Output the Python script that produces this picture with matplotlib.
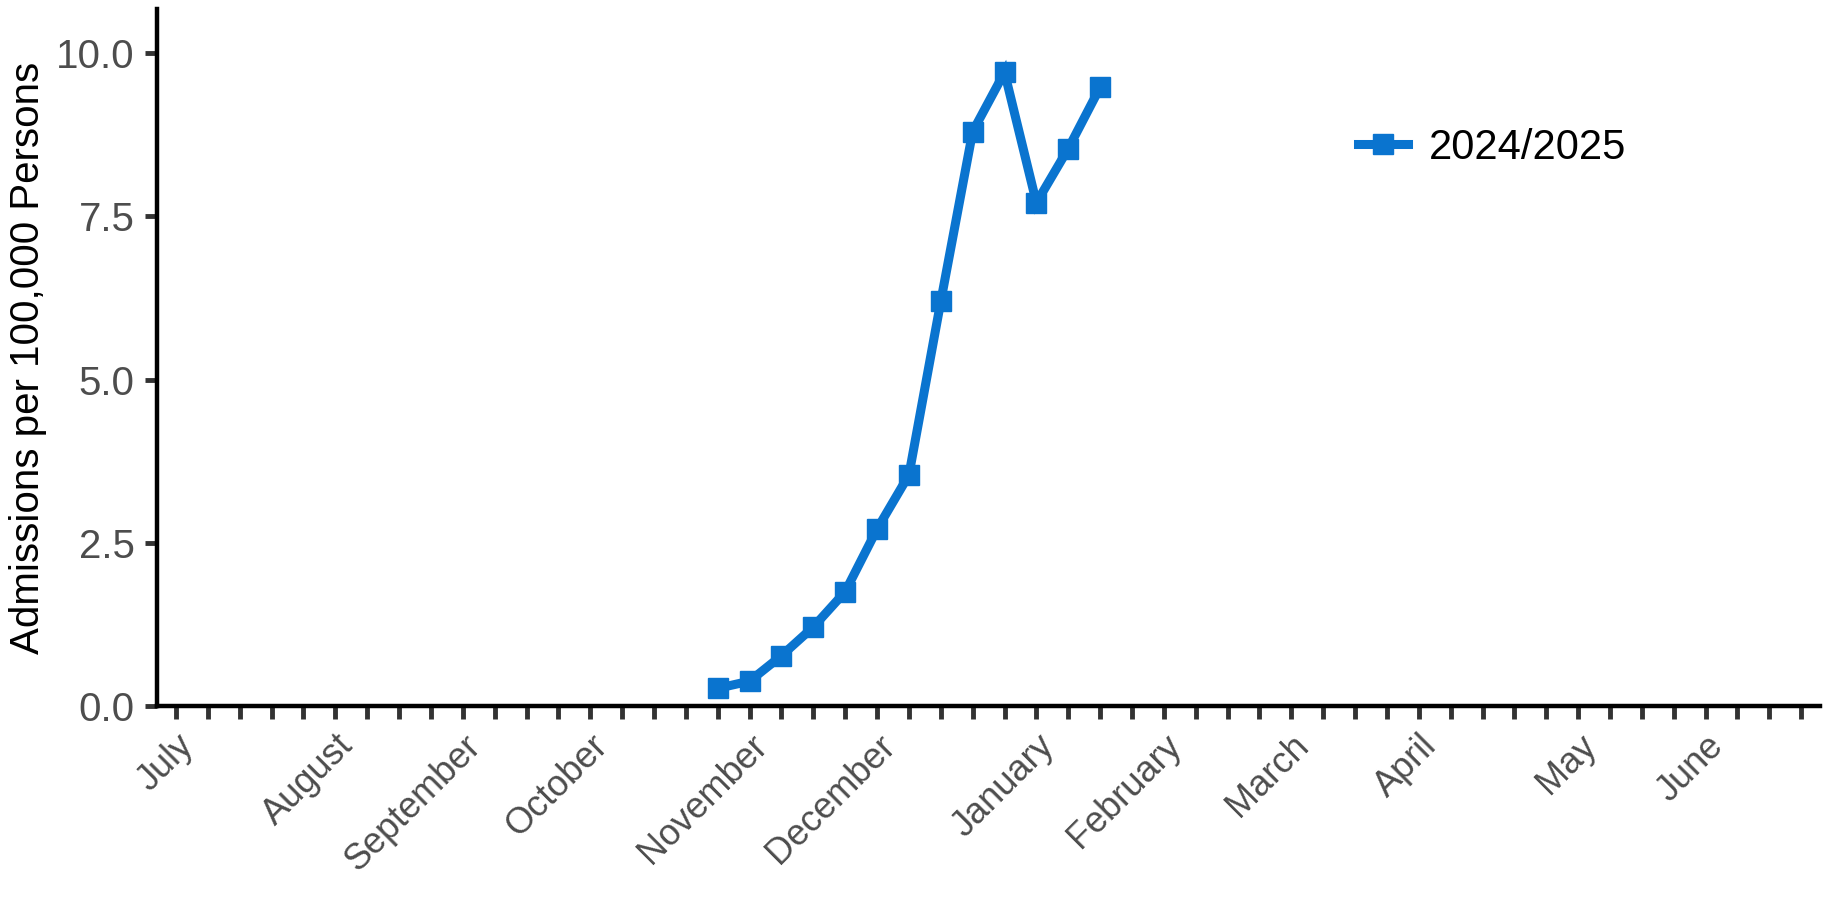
import numpy as np
import matplotlib.pyplot as plt

plt.rcParams['font.family'] = ['Liberation Sans', 'DejaVu Sans']

# season weeks (1 = first week of July)
weeks = np.arange(1, 53)
month_weeks = [1, 6, 10, 14, 19, 23, 28, 32, 36, 40, 45, 49]
month_names = ['July', 'August', 'September', 'October', 'November', 'December',
               'January', 'February', 'March', 'April', 'May', 'June']

# 2024/2025 season, weeks 18..30
data_weeks = np.arange(18, 31)
rate_2425 = [0.27, 0.38, 0.77, 1.21, 1.75, 2.71, 3.54, 6.20, 8.80, 9.71, 7.71, 8.54, 9.48]

blue = '#0A74CF'

fig = plt.figure(figsize=(18.24, 8.97), dpi=100)
ax = fig.add_axes([0.086, 0.213, 0.912, 0.777])

ax.plot(data_weeks, rate_2425, color=blue, lw=6.5, marker='s', ms=14.5,
        label='2024/2025', solid_joinstyle='miter')

ax.set_xlim(0.4, 52.6)
ax.set_ylim(0, 10.68)
ax.set_yticks([0, 2.5, 5.0, 7.5, 10.0])
ax.set_yticklabels(['0.0', '2.5', '5.0', '7.5', '10.0'])

labels = [''] * len(weeks)
for w, name in zip(month_weeks, month_names):
    labels[w - 1] = name
ax.set_xticks(weeks)
ax.set_xticklabels(labels, rotation=45, ha='right', va='top', rotation_mode='anchor')

ax.tick_params(axis='both', length=9, width=3.5, color='#333333', labelcolor='#4D4D4D', pad=7)
ax.tick_params(axis='x', labelsize=26)
ax.tick_params(axis='y', labelsize=29)
for s in ['top', 'right']:
    ax.spines[s].set_visible(False)
for s in ['left', 'bottom']:
    ax.spines[s].set_linewidth(3.2)

ax.set_ylabel('Admissions per 100,000 Persons', fontsize=29)
ax.yaxis.set_label_coords(-0.066, 0.5)

ax.legend(loc='center left', bbox_to_anchor=(0.7445, 0.835), bbox_transform=fig.transFigure,
          frameon=False, fontsize=30, handlelength=1.2, handletextpad=0.5,
          borderpad=0, borderaxespad=0)

fig.savefig('out.png', dpi=100)
